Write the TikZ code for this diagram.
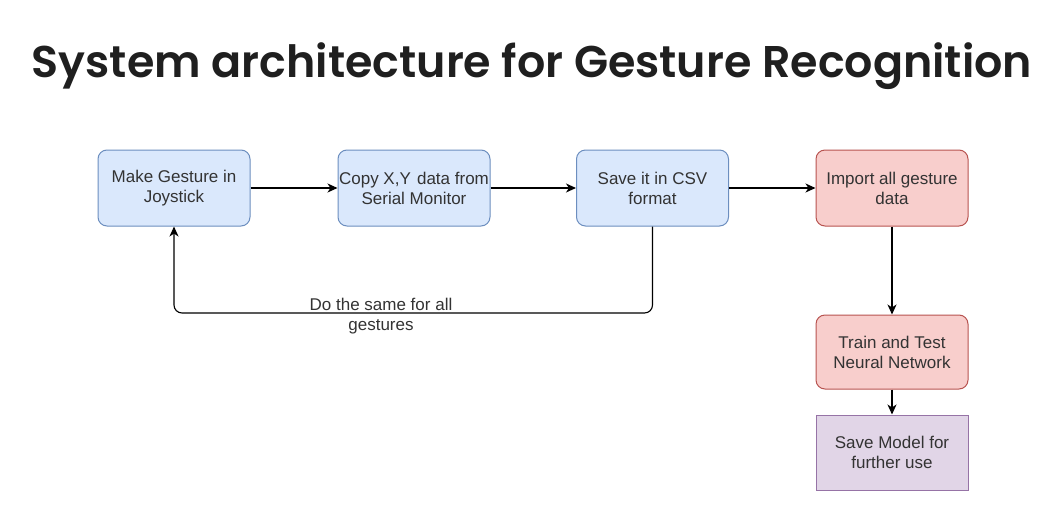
\documentclass[tikz,border=0pt]{standalone}
\usepackage{fontspec}
\setmainfont{Liberation Sans}
\newfontfamily\titlefont{Poppins SemiBold}
\usetikzlibrary{positioning,arrows.meta}
\definecolor{blueFill}{HTML}{DAE8FC}\definecolor{blueLine}{HTML}{6C8EBF}
\definecolor{redFill}{HTML}{F8CECC}\definecolor{redLine}{HTML}{B85450}
\definecolor{purpleFill}{HTML}{E1D5E7}\definecolor{purpleLine}{HTML}{9673A6}
\definecolor{txt}{HTML}{333333}
\tikzset{
  stepbox/.style={draw,line width=1pt,rounded corners=9pt,minimum width=152pt,minimum height=76pt,
    align=center,text=txt,font=\fontsize{17}{20}\selectfont,inner xsep=0pt},
  bluebox/.style={stepbox,fill=blueFill,draw=blueLine},
  redbox/.style={stepbox,fill=redFill,draw=redLine},
  link/.style={-{Stealth[length=10pt,width=9pt,inset=3pt]},line width=1.1pt,black}
}
\begin{document}
\begin{tikzpicture}[x=1pt,y=-1pt]
  \useasboundingbox[fill=white](0,0) rectangle (1061,528);
  \node[font=\titlefont\fontsize{44.4}{50}\selectfont,text=black!88] (title) at (532,66){System architecture for Gesture Recognition};
  \node[bluebox] (make) at (174,188){Make Gesture in\\Joystick};
  \node[bluebox] (copy) at (414,188){Copy X,Y\kern1.5pt\ data from\\Serial Monitor};
  \node[bluebox] (save) at (652.5,188){Save it in CSV\\format};
  \node[redbox] (import) at (892,188){Import all gesture\\data};
  \node[redbox,minimum height=74pt] (train) at (892,352){Train and Test\\Neural Network};
  \node[stepbox,rounded corners=0pt,fill=purpleFill,draw=purpleLine,minimum height=75pt] (model) at (892,452.5){Save Model for\\further use};
  \draw[link](make)--(copy);
  \draw[link](copy)--(save);
  \draw[link](save)--(import);
  \draw[link](import)--(train);
  \draw[link](train)--(model);
  \coordinate (loopR) at (save.south|-0,313);
  \coordinate (loopL) at (make.south|-0,313);
  \draw[link,rounded corners=8pt](save.south)--(loopR)--(loopL)--(make.south);
  \node[align=center,text=txt,font=\fontsize{17}{20}\selectfont] (same) at (381,316){Do the same for all\\gestures};
\end{tikzpicture}
\end{document}
